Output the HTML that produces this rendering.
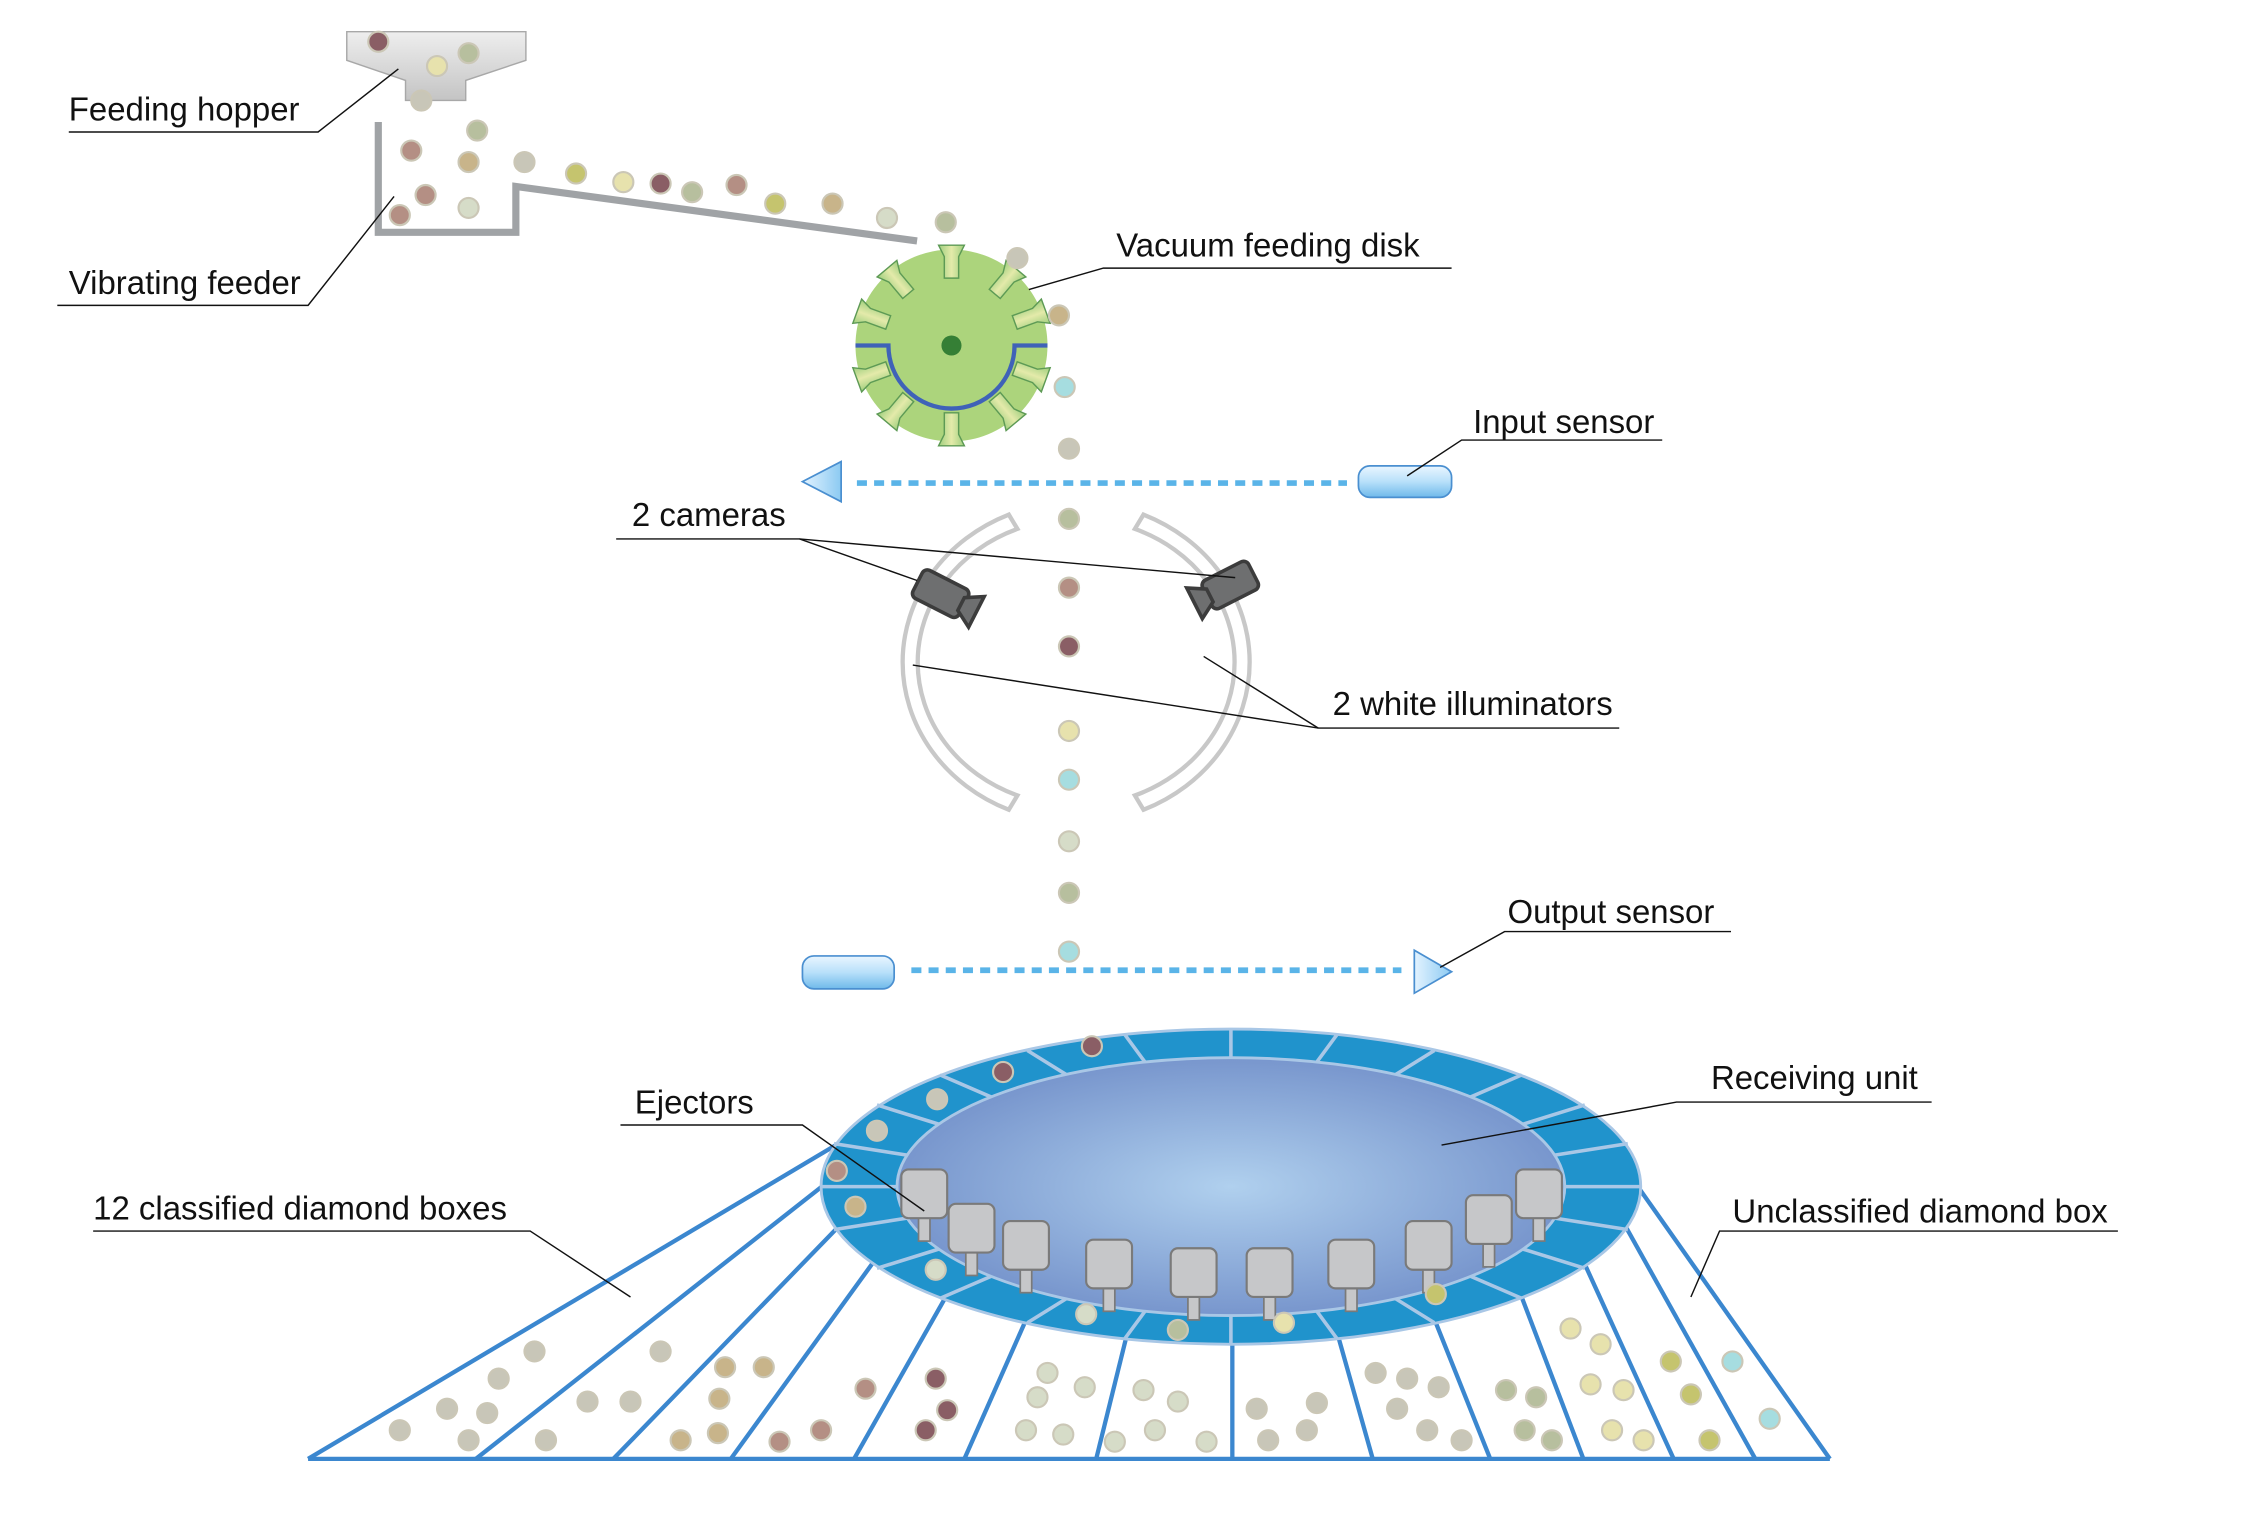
<!DOCTYPE html>
<html><head><meta charset="utf-8"><style>html,body{margin:0;padding:0;background:#fff}svg{display:block}text{font-family:"Liberation Sans",Arial,sans-serif;font-size:23px;fill:#111}</style></head>
<body>
<svg width="2244" height="1535" viewBox="0 0 1566 1071" xmlns="http://www.w3.org/2000/svg">
<defs>
<radialGradient id="inner" cx="50%" cy="50%" r="50%"><stop offset="0" stop-color="#b0d0ee"/><stop offset="1" stop-color="#7896cd"/></radialGradient>
<linearGradient id="hop" x1="0" y1="0" x2="0" y2="1"><stop offset="0" stop-color="#eeeeee"/><stop offset="1" stop-color="#c4c4c4"/></linearGradient>
<linearGradient id="cap" x1="0" y1="0" x2="0" y2="1"><stop offset="0" stop-color="#eaf6ff"/><stop offset="0.5" stop-color="#b8e0fa"/><stop offset="1" stop-color="#6fb9ea"/></linearGradient>
<linearGradient id="tri" x1="0" y1="0" x2="1" y2="0"><stop offset="0" stop-color="#e3f3ff"/><stop offset="1" stop-color="#8ccaf2"/></linearGradient>
<linearGradient id="noz" x1="0" y1="0" x2="1" y2="0"><stop offset="0" stop-color="#9fcf7e"/><stop offset="0.5" stop-color="#e4eaaa"/><stop offset="1" stop-color="#9fcf7e"/></linearGradient>
<g id="nozzle"><path d="M-5,-47 L5,-47 L5,-62 L9,-70 L-9,-70 L-5,-62 Z" fill="url(#noz)" stroke="#5d9a55" stroke-width="1"/></g>
<g id="ej"><rect x="-4" y="14" width="8" height="18" fill="#c6c7c9" stroke="#7a7a7a" stroke-width="1.2"/><rect x="-16" y="-18" width="32" height="34" rx="5" fill="#c6c7c9" stroke="#7a7a7a" stroke-width="1.5"/></g>
<g id="cam"><rect x="-22" y="-11" width="36" height="22" rx="4" fill="#6e6f70" stroke="#3c3c3c" stroke-width="2.5"/><path d="M12,-5 L24,-12 L24,12 L12,5 Z" fill="#6e6f70" stroke="#3c3c3c" stroke-width="2.5"/></g>
</defs>

<path d="M242,22 L367,22 L367,42 L325,56 L325,70 L283,70 L283,56 L242,42 Z" fill="url(#hop)" stroke="#a8a8a8" stroke-width="1"/>
<polyline points="264,85 264,162 360,162 360,130 640,168" fill="none" stroke="#a0a3a6" stroke-width="5"/>

<circle cx="664" cy="241" r="67" fill="#acd47c"/>
<g transform="translate(664,241)">
<use href="#nozzle" transform="rotate(0)"/><use href="#nozzle" transform="rotate(40)"/><use href="#nozzle" transform="rotate(70)"/><use href="#nozzle" transform="rotate(110)"/><use href="#nozzle" transform="rotate(140)"/><use href="#nozzle" transform="rotate(180)"/><use href="#nozzle" transform="rotate(220)"/><use href="#nozzle" transform="rotate(250)"/><use href="#nozzle" transform="rotate(290)"/><use href="#nozzle" transform="rotate(320)"/>
</g>
<path d="M597,241 L620,241 A44,44 0 0 0 708,241 L731,241" fill="none" stroke="#3f62b8" stroke-width="3"/>
<circle cx="664" cy="241" r="7" fill="#357f35"/>

<line x1="598" y1="337" x2="940" y2="337" stroke="#5ab4e8" stroke-width="4" stroke-dasharray="7,5"/>
<path d="M560,336 L587,322 L587,350 Z" fill="url(#tri)" stroke="#4a8fd0" stroke-width="1.2"/>
<rect x="948" y="325" width="65" height="22" rx="8" fill="url(#cap)" stroke="#4a8fd0" stroke-width="1.2"/>

<path d="M704,359 A122,112 0 0 0 704,565 L710,555 A110,100 0 0 1 710,369 Z" fill="#fff" stroke="#c8c8c8" stroke-width="3"/>
<path d="M798,359 A122,112 0 0 1 798,565 L792,555 A110,100 0 0 0 792,369 Z" fill="#fff" stroke="#c8c8c8" stroke-width="3"/>
<use href="#cam" transform="translate(660,416) rotate(27)"/>
<use href="#cam" transform="translate(855,410) rotate(-27) scale(-1,1)"/>

<line x1="636" y1="677" x2="978" y2="677" stroke="#5ab4e8" stroke-width="4" stroke-dasharray="7,5"/>
<rect x="560" y="667" width="64" height="23" rx="8" fill="url(#cap)" stroke="#4a8fd0" stroke-width="1.2"/>
<path d="M1013,678 L987,663 L987,693 Z" fill="url(#tri)" stroke="#4a8fd0" stroke-width="1.2"/>

<g stroke="#3b87cf" stroke-width="3" fill="none">
<line x1="215" y1="1018" x2="1277" y2="1018"/>
<line x1="585" y1="798" x2="215" y2="1018"/>
<line x1="576" y1="826" x2="332" y2="1018"/>
<line x1="586" y1="855" x2="428" y2="1018"/>
<line x1="610" y1="880" x2="510" y2="1018"/>
<line x1="660" y1="905" x2="596" y2="1018"/>
<line x1="716" y1="921" x2="673" y2="1018"/>
<line x1="786" y1="933" x2="765" y2="1018"/>
<line x1="860" y1="938" x2="860" y2="1018"/>
<line x1="934" y1="933" x2="958" y2="1018"/>
<line x1="1000" y1="918" x2="1040" y2="1018"/>
<line x1="1060" y1="900" x2="1105" y2="1018"/>
<line x1="1105" y1="880" x2="1168" y2="1018"/>
<line x1="1134" y1="855" x2="1225" y2="1018"/>
<line x1="1143" y1="828" x2="1277" y2="1018"/>
</g>

<ellipse cx="859" cy="828" rx="286" ry="110" fill="#2093cc" stroke="#a9c7e6" stroke-width="2"/>
<g stroke="#a9c7e6" stroke-width="2.5">
<line x1="859" y1="718" x2="859" y2="738"/>
<line x1="859" y1="938" x2="859" y2="918"/>
<line x1="933" y1="722" x2="919" y2="741"/><line x1="785" y1="722" x2="799" y2="741"/>
<line x1="1001" y1="733" x2="972" y2="751"/><line x1="717" y1="733" x2="746" y2="751"/>
<line x1="1062" y1="750" x2="1025" y2="766"/><line x1="656" y1="750" x2="693" y2="766"/>
<line x1="1106" y1="771" x2="1061" y2="785"/><line x1="612" y1="771" x2="657" y2="785"/>
<line x1="1136" y1="798" x2="1085" y2="806"/><line x1="582" y1="798" x2="633" y2="806"/>
<line x1="1145" y1="828" x2="1092" y2="828"/><line x1="573" y1="828" x2="626" y2="828"/>
<line x1="1136" y1="858" x2="1085" y2="850"/><line x1="582" y1="858" x2="633" y2="850"/>
<line x1="1106" y1="885" x2="1061" y2="871"/><line x1="612" y1="885" x2="657" y2="871"/>
<line x1="1062" y1="906" x2="1025" y2="890"/><line x1="656" y1="906" x2="693" y2="890"/>
<line x1="1001" y1="923" x2="972" y2="905"/><line x1="717" y1="923" x2="746" y2="905"/>
<line x1="933" y1="934" x2="919" y2="915"/><line x1="785" y1="934" x2="799" y2="915"/>
</g>
<ellipse cx="859" cy="828" rx="233" ry="90" fill="url(#inner)" stroke="#a9c7e6" stroke-width="2"/>
<use href="#ej" transform="translate(645,834)"/>
<use href="#ej" transform="translate(678,858)"/>
<use href="#ej" transform="translate(716,870)"/>
<use href="#ej" transform="translate(774,883)"/>
<use href="#ej" transform="translate(833,889)"/>
<use href="#ej" transform="translate(886,889)"/>
<use href="#ej" transform="translate(943,883)"/>
<use href="#ej" transform="translate(997,870)"/>
<use href="#ej" transform="translate(1039,852)"/>
<use href="#ej" transform="translate(1074,834)"/>

<g stroke="#cbc7b6" stroke-width="1.5">
<g fill="#8a5e65"><circle cx="264" cy="29" r="7"/><circle cx="461" cy="128" r="7"/><circle cx="746" cy="451" r="7"/><circle cx="762" cy="730" r="7"/><circle cx="700" cy="748" r="7"/><circle cx="653" cy="962" r="7"/><circle cx="661" cy="984" r="7"/><circle cx="646" cy="998" r="7"/></g>
<g fill="#e7e2ad"><circle cx="305" cy="46" r="7"/><circle cx="435" cy="127" r="7"/><circle cx="746" cy="510" r="7"/><circle cx="896" cy="923" r="7"/><circle cx="1096" cy="927" r="7"/><circle cx="1117" cy="938" r="7"/><circle cx="1110" cy="966" r="7"/><circle cx="1133" cy="970" r="7"/><circle cx="1125" cy="998" r="7"/><circle cx="1147" cy="1005" r="7"/></g>
<g fill="#b7bf9e"><circle cx="327" cy="37" r="7"/><circle cx="333" cy="91" r="7"/><circle cx="483" cy="134" r="7"/><circle cx="660" cy="155" r="7"/><circle cx="746" cy="362" r="7"/><circle cx="746" cy="623" r="7"/><circle cx="822" cy="928" r="7"/><circle cx="1051" cy="970" r="7"/><circle cx="1072" cy="975" r="7"/><circle cx="1064" cy="998" r="7"/><circle cx="1083" cy="1005" r="7"/></g>
<g fill="#c8c6b8"><circle cx="294" cy="70" r="7"/><circle cx="366" cy="113" r="7"/><circle cx="710" cy="180" r="7"/><circle cx="746" cy="313" r="7"/><circle cx="654" cy="767" r="7"/><circle cx="612" cy="789" r="7"/>
<circle cx="279" cy="998" r="7"/><circle cx="312" cy="983" r="7"/><circle cx="340" cy="986" r="7"/><circle cx="348" cy="962" r="7"/><circle cx="373" cy="943" r="7"/><circle cx="327" cy="1005" r="7"/><circle cx="381" cy="1005" r="7"/><circle cx="410" cy="978" r="7"/><circle cx="440" cy="978" r="7"/><circle cx="461" cy="943" r="7"/>
<circle cx="877" cy="983" r="7"/><circle cx="919" cy="979" r="7"/><circle cx="912" cy="998" r="7"/><circle cx="885" cy="1005" r="7"/><circle cx="960" cy="958" r="7"/><circle cx="982" cy="962" r="7"/><circle cx="1004" cy="968" r="7"/><circle cx="975" cy="983" r="7"/><circle cx="996" cy="998" r="7"/><circle cx="1020" cy="1005" r="7"/></g>
<g fill="#b48f84"><circle cx="287" cy="105" r="7"/><circle cx="297" cy="136" r="7"/><circle cx="279" cy="150" r="7"/><circle cx="514" cy="129" r="7"/><circle cx="746" cy="410" r="7"/><circle cx="584" cy="817" r="7"/><circle cx="544" cy="1006" r="7"/><circle cx="573" cy="998" r="7"/><circle cx="604" cy="969" r="7"/></g>
<g fill="#c8b48a"><circle cx="327" cy="113" r="7"/><circle cx="581" cy="142" r="7"/><circle cx="739" cy="220" r="7"/><circle cx="597" cy="842" r="7"/><circle cx="506" cy="954" r="7"/><circle cx="533" cy="954" r="7"/><circle cx="502" cy="976" r="7"/><circle cx="475" cy="1005" r="7"/><circle cx="501" cy="1000" r="7"/></g>
<g fill="#d6dcc8"><circle cx="327" cy="145" r="7"/><circle cx="619" cy="152" r="7"/><circle cx="746" cy="587" r="7"/><circle cx="653" cy="886" r="7"/><circle cx="758" cy="917" r="7"/><circle cx="731" cy="958" r="7"/><circle cx="724" cy="975" r="7"/><circle cx="757" cy="968" r="7"/><circle cx="716" cy="998" r="7"/><circle cx="742" cy="1001" r="7"/><circle cx="798" cy="970" r="7"/><circle cx="822" cy="978" r="7"/><circle cx="778" cy="1006" r="7"/><circle cx="806" cy="998" r="7"/><circle cx="842" cy="1006" r="7"/></g>
<g fill="#c5c46e"><circle cx="402" cy="121" r="7"/><circle cx="541" cy="142" r="7"/><circle cx="1002" cy="903" r="7"/><circle cx="1166" cy="950" r="7"/><circle cx="1180" cy="973" r="7"/><circle cx="1193" cy="1005" r="7"/></g>
<g fill="#a6dde0"><circle cx="743" cy="270" r="7"/><circle cx="746" cy="544" r="7"/><circle cx="746" cy="664" r="7"/><circle cx="1209" cy="950" r="7"/><circle cx="1235" cy="990" r="7"/></g>
</g>

<g stroke="#111" stroke-width="1" fill="none">
<polyline points="48,92 222,92 278,48"/>
<polyline points="40,213 215,213 275,137"/>
<polyline points="1013,187 770,187 718,202"/>
<polyline points="1160,307 1020,307 982,332"/>
<polyline points="430,376 558,376 640,405"/><line x1="558" y1="376" x2="862" y2="403"/>
<polyline points="1130,508 920,508 637,464"/><line x1="920" y1="508" x2="840" y2="458"/>
<polyline points="1208,650 1050,650 1005,675"/>
<polyline points="1348,769 1170,769 1006,799"/>
<polyline points="433,785 560,785 645,845"/>
<polyline points="65,859 370,859 440,905"/>
<polyline points="1478,859 1200,859 1180,905"/>
</g>
<text x="48" y="84">Feeding hopper</text>
<text x="48" y="205">Vibrating feeder</text>
<text x="779" y="179">Vacuum feeding disk</text>
<text x="1028" y="302">Input sensor</text>
<text x="441" y="367">2 cameras</text>
<text x="930" y="499">2 white illuminators</text>
<text x="1052" y="644">Output sensor</text>
<text x="1194" y="760">Receiving unit</text>
<text x="443" y="777">Ejectors</text>
<text x="65" y="851">12 classified diamond boxes</text>
<text x="1209" y="853">Unclassified diamond box</text>
</svg>
</body></html>
